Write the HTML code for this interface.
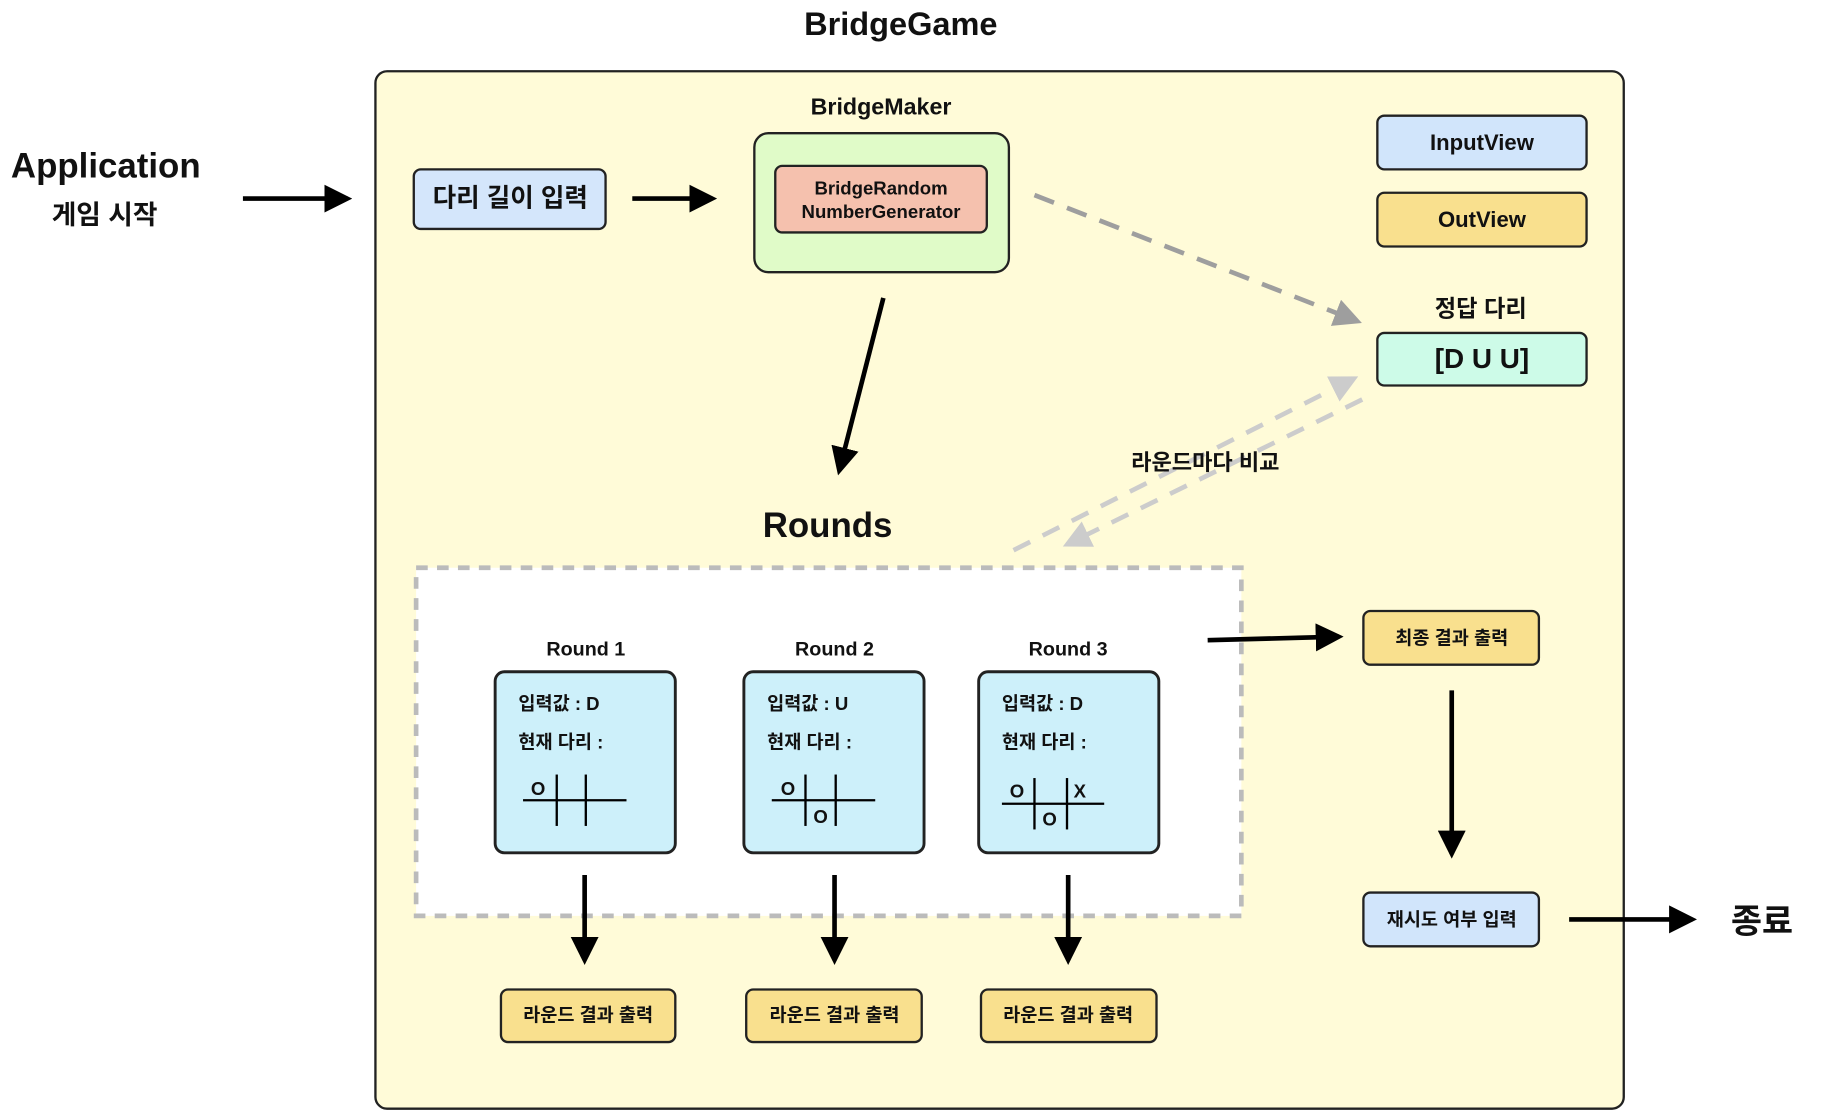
<!DOCTYPE html>
<html><head><meta charset="utf-8"><style>
html,body{margin:0;padding:0;background:#fff;}
svg{display:block;}
text{font-family:"Liberation Sans","Noto Sans CJK KR",sans-serif;font-weight:bold;fill:#111;text-anchor:middle;dominant-baseline:central;}
</style></head><body>
<svg width="1826" height="1118" viewBox="-2 1 1571 957" preserveAspectRatio="none" xmlns="http://www.w3.org/2000/svg">
<defs>
<marker id="ab" markerWidth="6" markerHeight="6" refX="5" refY="3" orient="auto" markerUnits="strokeWidth"><path d="M0,0 L6,3 L0,6 z" fill="#000"/></marker>
<marker id="ag" markerWidth="6" markerHeight="6" refX="5" refY="3" orient="auto" markerUnits="strokeWidth"><path d="M0,0 L6,3 L0,6 z" fill="#9e9e9e"/></marker>
<marker id="al" markerWidth="6" markerHeight="6" refX="5" refY="3" orient="auto" markerUnits="strokeWidth"><path d="M0,0 L6,3 L0,6 z" fill="#cccccc"/></marker>
</defs>
<text x="773" y="21" font-size="28">BridgeGame</text>
<rect x="321" y="62" width="1074" height="888" rx="10" fill="#fffbd8" stroke="#222" stroke-width="2"/>
<text x="89" y="143" font-size="30">Application</text>
<text x="88" y="185" font-size="23">게임 시작</text>
<line x1="207" y1="171" x2="297" y2="171" stroke="#000" stroke-width="4" marker-end="url(#ab)"/>
<rect x="354" y="146" width="165" height="51" rx="6" fill="#d4e6fb" stroke="#222" stroke-width="2"/>
<text x="437" y="171" font-size="22">다리 길이 입력</text>
<line x1="542" y1="171" x2="611" y2="171" stroke="#000" stroke-width="4" marker-end="url(#ab)"/>
<text x="756" y="92" font-size="20">BridgeMaker</text>
<rect x="647" y="115" width="219" height="119" rx="12" fill="#e0fbc8" stroke="#222" stroke-width="2"/>
<rect x="665" y="143" width="182" height="57" rx="6" fill="#f5c1ae" stroke="#222" stroke-width="2"/>
<text x="756" y="162" font-size="16">BridgeRandom</text>
<text x="756" y="182" font-size="16">NumberGenerator</text>
<rect x="1183" y="100" width="180" height="46" rx="6" fill="#d1e5fb" stroke="#222" stroke-width="2"/>
<text x="1273" y="123" font-size="19">InputView</text>
<rect x="1183" y="166" width="180" height="46" rx="6" fill="#f9e08e" stroke="#222" stroke-width="2"/>
<text x="1273" y="189" font-size="19">OutView</text>
<text x="1272" y="265" font-size="20">정답 다리</text>
<rect x="1183" y="286" width="180" height="45" rx="6" fill="#cdfbe8" stroke="#222" stroke-width="2"/>
<text x="1273" y="308" font-size="24">[D U U]</text>
<line x1="888" y1="168" x2="1166" y2="276" stroke="#9e9e9e" stroke-width="4" stroke-dasharray="18,12" marker-end="url(#ag)"/>
<line x1="1170" y1="343" x2="916" y2="467" stroke="#cccccc" stroke-width="4" stroke-dasharray="16,12" marker-end="url(#al)"/>
<line x1="870" y1="472" x2="1163" y2="325" stroke="#cccccc" stroke-width="4" stroke-dasharray="16,12" marker-end="url(#al)"/>
<text x="1035" y="397" font-size="19">라운드마다 비교</text>
<line x1="758" y1="256" x2="720" y2="404" stroke="#000" stroke-width="4" marker-end="url(#ab)"/>
<text x="710" y="451" font-size="30">Rounds</text>
<rect x="356" y="487" width="710" height="298" fill="#fff" stroke="#bbb" stroke-width="4" stroke-dasharray="10,8"/>
<g font-size="17">
<text x="502" y="557">Round 1</text><text x="716" y="557">Round 2</text><text x="917" y="557">Round 3</text>
</g>
<rect x="424" y="576" width="155" height="155" rx="8" fill="#cdf0fa" stroke="#222" stroke-width="2.5"/>
<rect x="638" y="576" width="155" height="155" rx="8" fill="#cdf0fa" stroke="#222" stroke-width="2.5"/>
<rect x="840" y="576" width="155" height="155" rx="8" fill="#cdf0fa" stroke="#222" stroke-width="2.5"/>
<g font-size="16">
<text x="444" y="603" style="text-anchor:start">입력값 : D</text>
<text x="444" y="636" style="text-anchor:start">현재 다리 :</text>
<text x="658" y="603" style="text-anchor:start">입력값 : U</text>
<text x="658" y="636" style="text-anchor:start">현재 다리 :</text>
<text x="860" y="603" style="text-anchor:start">입력값 : D</text>
<text x="860" y="636" style="text-anchor:start">현재 다리 :</text>
</g>
<g stroke="#000" stroke-width="2">
<line x1="448" y1="686" x2="537" y2="686"/><line x1="477" y1="664" x2="477" y2="708"/><line x1="502" y1="664" x2="502" y2="708"/>
<line x1="662" y1="686" x2="751" y2="686"/><line x1="691" y1="664" x2="691" y2="708"/><line x1="717" y1="664" x2="717" y2="708"/>
<line x1="860" y1="689" x2="948" y2="689"/><line x1="888" y1="667" x2="888" y2="711"/><line x1="916" y1="667" x2="916" y2="711"/>
</g>
<g font-size="16">
<text x="461" y="676">O</text>
<text x="676" y="676">O</text><text x="704" y="700">O</text>
<text x="873" y="678">O</text><text x="927" y="678">X</text><text x="901" y="702">O</text>
</g>
<line x1="501" y1="750" x2="501" y2="823" stroke="#000" stroke-width="4" marker-end="url(#ab)"/>
<line x1="716" y1="750" x2="716" y2="823" stroke="#000" stroke-width="4" marker-end="url(#ab)"/>
<line x1="917" y1="750" x2="917" y2="823" stroke="#000" stroke-width="4" marker-end="url(#ab)"/>
<g font-size="16">
<rect x="429" y="848" width="150" height="45" rx="6" fill="#f9e08e" stroke="#222" stroke-width="2"/>
<text x="504" y="870">라운드 결과 출력</text>
<rect x="640" y="848" width="151" height="45" rx="6" fill="#f9e08e" stroke="#222" stroke-width="2"/>
<text x="716" y="870">라운드 결과 출력</text>
<rect x="842" y="848" width="151" height="45" rx="6" fill="#f9e08e" stroke="#222" stroke-width="2"/>
<text x="917" y="870">라운드 결과 출력</text>
<rect x="1171" y="524" width="151" height="46" rx="6" fill="#f9e08e" stroke="#222" stroke-width="2"/>
<text x="1247" y="547">최종 결과 출력</text>
<rect x="1171" y="765" width="151" height="46" rx="6" fill="#d1e5fb" stroke="#222" stroke-width="2"/>
<text x="1247" y="788">재시도 여부 입력</text>
</g>
<line x1="1037" y1="549" x2="1150" y2="546" stroke="#000" stroke-width="4" marker-end="url(#ab)"/>
<line x1="1247" y1="592" x2="1247" y2="732" stroke="#000" stroke-width="4" marker-end="url(#ab)"/>
<line x1="1348" y1="788" x2="1454" y2="788" stroke="#000" stroke-width="4" marker-end="url(#ab)"/>
<text x="1514" y="790" font-size="29">종료</text>
</svg>
</body></html>
